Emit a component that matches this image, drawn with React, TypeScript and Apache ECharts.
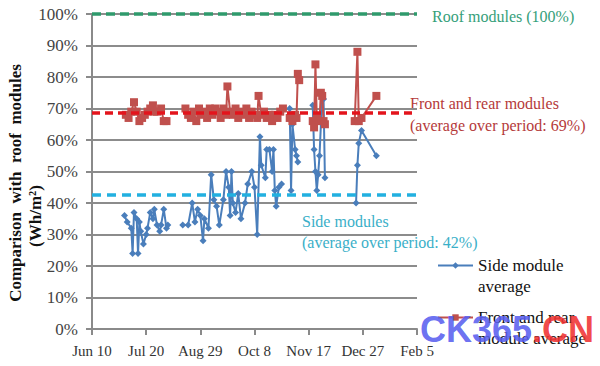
import React, { useEffect, useRef } from "react";
import * as echarts from "echarts";

// X axis: days since Jun 10, ticks every 40 days
const xTickLabels = ["Jun 10", "Jul 20", "Aug 29", "Oct 8", "Nov 17", "Dec 27", "Feb 5"];

// Side module average (null = gap in the record)
const sideDays = [24, 26, 29, 30, 31, 33, 34, 35, 36, 38, 40, 41, 43, 45, 46, 48, 50, 51, 53, 55, 56,
  60,
  67, 71, 74, 76, 78, 80, 82, 83, 86, 88, 90, 92, 94, 97, 99, 101, 102, 103, 104, 106, 108, 110, 113, 115, 118, 120, 122, 124, 125, 128, 129, 131, 133, 134, 135, 136, 138, 140,
  143,
  146, 147, 148, 150, 151, 152,
  158,
  163, 164, 165, 166, 167, 168, 170, 171, 172,
  180,
  195, 196, 197, 199, 210];
const sideVals = [36, 34, 32, 24, 37, 35, 24, 34, 31, 27, 30, 32, 37, 35, 38, 33, 31, 33, 38, 32, 33,
  null,
  33, 33, 40, 34, 38, 36, 28, 35, 32, 49, 41, 39, 33, 41, 50, 45, 36, 50, 40, 37, 43, 35, 40, 46, 50, 45, 30, 61, 52, 48, 57, 57, 50, 57, 44, 39, 45, 46,
  null,
  70, 44, 65, 57, 55, 53,
  null,
  71, 57, 50, 44, 49, 55, 74, 73, 48,
  null,
  40, 52, 59, 63, 55];

// Front and rear module average
const frontDays = [25, 27, 29, 31, 33, 35, 37, 39, 41, 43, 45, 46, 48, 51, 53, 55,
  62,
  69, 71, 73, 75, 77, 79, 81, 83, 85, 87, 89, 91, 93, 95, 97, 99, 100, 102, 104, 106, 108, 110, 112, 114, 116, 118, 120, 122, 123, 125, 127, 129, 131, 133, 135, 137, 139, 141,
  143,
  146, 148, 150, 151, 152, 153,
  158,
  163, 164, 165, 166, 168, 169, 170, 171, 172,
  180,
  194, 196, 197, 199, 210];
const frontVals = [68, 67, 69, 72, 69, 66, 67, 68, 69, 70, 71, 69, 69, 70, 66, 66,
  null,
  70, 68, 67, 69, 66, 70, 68, 69, 67, 70, 68, 70, 69, 67, 70, 68, 77, 69, 68, 70, 67, 69, 68, 70, 67, 69, 68, 67, 74, 68, 69, 67, 68, 66, 68, 67, 69, 70,
  null,
  67, 66, 68, 67, 81, 79,
  null,
  66, 64, 84, 67, 66, 75, 74, 66, 65,
  null,
  66, 88, 66, 67, 74];

// Reference levels (%)
const roofLevel = 100;
const frontAvgLevel = 68.5;
const sideAvgLevel = 42.5;

const SERIF = "Liberation Serif";
const SANS = "Liberation Sans";

function txt(x: number, y: number, text: string, fill: string, size = 16) {
  return {
    type: "text",
    x,
    y,
    style: { text, fill, fontSize: size, fontFamily: SERIF, verticalAlign: "middle" },
  };
}

export default function App() {
  const ref = useRef<HTMLDivElement>(null);
  useEffect(() => {
    if (!ref.current) return;
    const chart = echarts.init(ref.current, null, { renderer: "svg" });
    const sideData = sideDays.map((d, i) => [d, sideVals[i] === null ? "-" : sideVals[i]]);
    const frontData = frontDays.map((d, i) => [d, frontVals[i] === null ? "-" : frontVals[i]]);
    chart.setOption({
      animation: false,
      textStyle: { fontFamily: SERIF },
      grid: { left: 92, right: 183, top: 14, bottom: 37, containLabel: false },
      xAxis: {
        type: "value",
        min: 0,
        max: 240,
        interval: 40,
        axisLine: { show: true, lineStyle: { color: "#8a8a8a", width: 2 } },
        axisTick: { show: true, length: 6, lineStyle: { color: "#8a8a8a", width: 2 } },
        splitLine: { show: false },
        axisLabel: {
          formatter: (v: number) => xTickLabels[Math.round(v / 40)] ?? "",
          color: "#333",
          fontSize: 15,
          fontFamily: SERIF,
          margin: 14,
        },
      },
      yAxis: {
        type: "value",
        min: 0,
        max: 100,
        interval: 10,
        axisLine: { show: true, lineStyle: { color: "#8a8a8a", width: 2 } },
        axisTick: { show: true, length: 6, lineStyle: { color: "#8a8a8a", width: 2 } },
        splitLine: { show: true, lineStyle: { color: "#8c8c8c", width: 2 } },
        axisLabel: {
          formatter: "{value}%",
          color: "#444",
          fontSize: 17,
          fontFamily: SERIF,
          margin: 14,
        },
      },
      legend: {
        orient: "vertical",
        left: 432,
        top: 229,
        itemWidth: 35,
        itemHeight: 8,
        itemGap: -11,
        data: ["Side module average", "Front and rear module average"],
        formatter: (name: string) =>
          name === "Side module average" ? "\nSide module\naverage" : "\nFront and rear\nmodule average",
        textStyle: { fontSize: 17, color: "#111", fontFamily: SERIF, lineHeight: 21 },
      },
      series: [
        {
          name: "Side module average",
          type: "line",
          data: sideData,
          connectNulls: false,
          symbol: "diamond",
          symbolSize: 7,
          itemStyle: { color: "#4a7ebb" },
          lineStyle: { color: "#4a7ebb", width: 2 },
          z: 3,
        },
        {
          name: "Front and rear module average",
          type: "line",
          data: frontData,
          connectNulls: false,
          symbol: "rect",
          symbolSize: 8,
          itemStyle: { color: "#c0504d" },
          lineStyle: { color: "#c0504d", width: 2 },
          z: 4,
        },
        {
          name: "levels",
          type: "line",
          data: [],
          z: 5,
          markLine: {
            silent: true,
            symbol: "none",
            label: { show: false },
            data: [
              { yAxis: roofLevel, lineStyle: { color: "#2f9a6c", width: 3.5, type: [9, 5] } },
              { yAxis: frontAvgLevel, lineStyle: { color: "#e3141c", width: 3.5, type: [8, 5] } },
              { yAxis: sideAvgLevel, lineStyle: { color: "#22b0e0", width: 3.5, type: [9, 6] } },
            ],
          },
        },
      ],
      graphic: [
        {
          type: "text",
          x: 15,
          y: 183,
          rotation: Math.PI / 2,
          style: {
            text: "Comparison  with  roof  modules",
            fontSize: 17,
            fontWeight: "bold",
            fontFamily: SERIF,
            fill: "#111",
            align: "center",
            verticalAlign: "middle",
          },
        },
        {
          type: "text",
          x: 35,
          y: 216,
          rotation: Math.PI / 2,
          style: {
            text: "(Wh/m²)",
            fontSize: 17,
            fontWeight: "bold",
            fontFamily: SERIF,
            fill: "#111",
            align: "center",
            verticalAlign: "middle",
          },
        },
        txt(432, 16, "Roof modules (100%)", "#35a07a"),
        txt(410, 103, "Front and rear modules", "#b53a3a"),
        txt(410, 125, "(average over period: 69%)", "#b53a3a"),
        txt(302, 221, "Side modules", "#3aafc8"),
        txt(302, 242, "(average over period: 42%)", "#3aafc8"),
        {
          type: "text",
          x: 420,
          y: 329,
          z: 100,
          style: {
            text: "{b|CK365}{r|.CN}",
            verticalAlign: "middle",
            rich: {
              b: { fontSize: 36, fontWeight: "bold", fontFamily: SANS, fill: "rgba(90,95,240,0.9)" },
              r: { fontSize: 36, fontWeight: "bold", fontFamily: SANS, fill: "rgba(240,50,50,0.9)" },
            },
          },
        },
      ],
    });
    return () => chart.dispose();
  }, []);
  return <div ref={ref} style={{ width: 600, height: 366, position: "absolute", left: 0, top: 0 }} />;
}
